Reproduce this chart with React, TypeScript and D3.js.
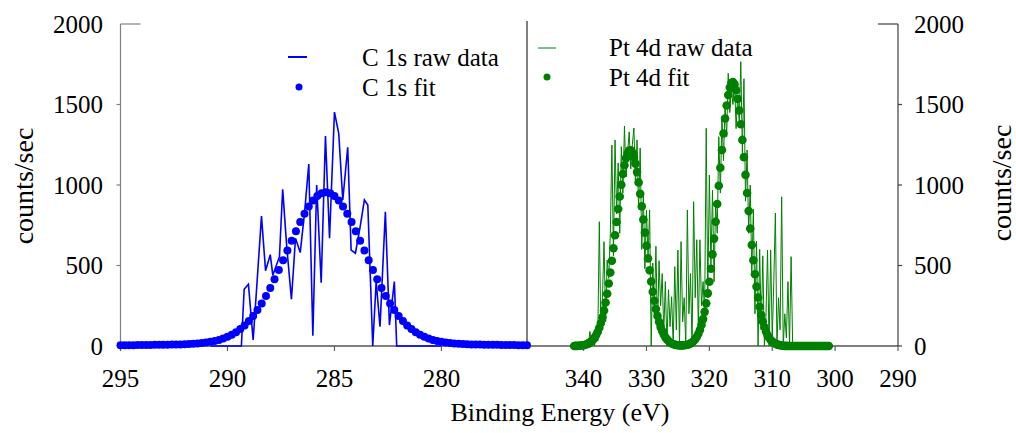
import React from 'react';
import * as d3 from 'd3';

// ---- Data ----
const C1S_RAW_ENERGY = [290.8, 289.35, 289.22, 289.02, 288.8, 288.41, 288.22, 288.0, 287.88, 287.57, 287.42, 287.23, 287.01, 286.82, 286.6, 286.4, 286.2, 286.01, 285.83, 285.62, 285.42, 285.23, 285.0, 284.8, 284.61, 284.38, 284.22, 284.02, 283.8, 283.6, 283.44, 283.21, 283.05, 282.87, 282.62, 282.43, 282.2, 282.09, 280.0];
const C1S_RAW_COUNTS = [0, 0, 352, 383, 37, 807, 468, 567, 439, 555, 973, 617, 290, 669, 580, 824, 1130, 64, 1000, 393, 1304, 669, 1453, 1321, 907, 1234, 596, 576, 740, 907, 876, 0, 400, 120, 834, 130, 400, 0, 0];

const C1S_FIT_START = 295;
const C1S_FIT_STEP = 0.2;
const C1S_FIT_COUNTS = [5, 5, 5, 5, 6, 6, 6, 6, 7, 7, 8, 8, 9, 9, 10, 11, 12, 14, 16, 18, 22, 26, 31, 38, 46, 57, 70, 86, 105, 128, 155, 187, 223, 264, 310, 360, 414, 472, 532, 593, 654, 713, 770, 822, 867, 904, 932, 949, 955, 949, 932, 904, 867, 822, 770, 713, 654, 593, 532, 472, 414, 360, 310, 264, 223, 187, 155, 128, 105, 86, 70, 57, 46, 38, 31, 26, 22, 18, 16, 14, 12, 11, 10, 9, 9, 8, 8, 7, 7, 6, 6, 6, 6, 5, 5, 5];

const PT4D_RAW_START = 340;
const PT4D_RAW_STEP = 0.25;
const PT4D_RAW_COUNTS = [0, 0, 40, 0, 90, 20, 60, 0, 120, 30, 772, 80, 300, 648, 150, 534, 420, 700, 1248, 560, 1280, 820, 1137, 700, 1238, 950, 1366, 1050, 1200, 1330, 1100, 1250, 1354, 1000, 1280, 850, 1230, 600, 950, 480, 845, 550, 845, 0, 515, 200, 620, 100, 530, 250, 450, 80, 400, 0, 350, 120, 306, 0, 493, 100, 596, 0, 648, 150, 300, 0, 845, 200, 450, 0, 896, 300, 660, 100, 660, 250, 400, 200, 1352, 300, 1062, 500, 968, 400, 900, 700, 1300, 950, 1424, 1150, 1500, 1300, 1694, 1450, 1600, 1500, 1650, 1350, 1550, 1400, 1766, 1200, 1660, 900, 1217, 700, 1000, 450, 850, 200, 650, 0, 600, 100, 560, 0, 182, 596, 0, 596, 50, 400, 826, 0, 300, 100, 927, 0, 200, 50, 400, 0, 555, 0];

const PT4D_FIT_START = 341.5;
const PT4D_FIT_STEP = 0.25;
const PT4D_FIT_COUNTS = [0, 1, 1, 2, 3, 4, 5, 8, 11, 15, 21, 29, 39, 52, 68, 88, 113, 143, 179, 221, 270, 325, 388, 456, 529, 607, 688, 770, 851, 929, 1002, 1068, 1123, 1167, 1198, 1214, 1216, 1202, 1174, 1133, 1080, 1016, 945, 867, 786, 704, 623, 544, 470, 401, 337, 281, 230, 187, 150, 119, 93, 72, 55, 41, 31, 22, 16, 12, 8, 6, 5, 4, 4, 3, 5, 6, 8, 11, 16, 22, 31, 42, 57, 76, 100, 131, 167, 212, 265, 327, 399, 480, 569, 667, 772, 882, 995, 1107, 1217, 1320, 1413, 1494, 1559, 1606, 1633, 1640, 1625, 1589, 1535, 1463, 1377, 1280, 1173, 1063, 950, 838, 730, 627, 533, 446, 369, 301, 243, 193, 152, 118, 90, 68, 51, 37, 27, 20, 14, 10, 7, 5, 3, 2, 1, 1, 0, 0, 0, 0, 0, 0, 0, 0, 0, 0, 0, 0, 0, 0, 0, 0, 0, 0, 0, 0, 0, 0, 0, 0, 0, 0, 0];

const Y_TICKS = [0, 500, 1000, 1500, 2000];
const LEFT_X_TICKS = [295, 290, 285, 280];
const RIGHT_X_TICKS = [340, 330, 320, 310, 300, 290];

const LEGEND_LEFT = ['C 1s raw data', 'C 1s fit'];
const LEGEND_RIGHT = ['Pt 4d raw data', 'Pt 4d fit'];
const Y_TITLE = 'counts/sec';
const X_TITLE = 'Binding Energy (eV)';

const BLUE = '#0000ff';
const GREEN = '#008000';
const FONT = "Liberation Serif, Times New Roman, Times, Nimbus Roman, DejaVu Serif, serif";

type Pt = [number, number];

function T(props: any) {
  const { size, children, ...rest } = props;
  return (
    <text {...rest} fill="#000" fontFamily={FONT} fontSize={size}>
      {children}
    </text>
  );
}

export default function App() {
  const W = 1016;
  const H = 433;
  const y = d3.scaleLinear().domain([0, 2000]).range([346, 24]);
  const xL = d3.scaleLinear().domain([295, 276]).range([120.5, 527]);
  const xR = d3.scaleLinear().domain([349, 290]).range([527, 898]);

  const c1sRaw: Pt[] = C1S_RAW_ENERGY.map((e, i) => [e, C1S_RAW_COUNTS[i]]);
  const c1sFit: Pt[] = C1S_FIT_COUNTS.map((c, i) => [C1S_FIT_START - i * C1S_FIT_STEP, c]);
  const ptRaw: Pt[] = PT4D_RAW_COUNTS.map((c, i) => [PT4D_RAW_START - i * PT4D_RAW_STEP, c]);
  const ptFit: Pt[] = PT4D_FIT_COUNTS.map((c, i) => [PT4D_FIT_START - i * PT4D_FIT_STEP, c]);

  const lineL = d3.line<Pt>().x((d) => xL(d[0])).y((d) => y(d[1]));
  const lineR = d3.line<Pt>().x((d) => xR(d[0])).y((d) => y(d[1]));

  const yBase = y(0);
  const leftAxisX = xL(295);
  const rightAxisX = xR(290);

  return (
    <svg width={W} height={H} style={{ position: 'absolute', left: 0, top: 0, background: '#fff' }}>
      <rect x={0} y={0} width={W} height={H} fill="#fff" />

      {/* left y axis */}
      <line x1={leftAxisX} x2={leftAxisX} y1={y(2000)} y2={yBase} stroke="#808080" strokeWidth={1.2} />
      <line x1={leftAxisX} x2={leftAxisX + 20} y1={y(2000)} y2={y(2000)} stroke="#808080" strokeWidth={1.2} />
      {Y_TICKS.filter((t) => t > 0 && t < 2000).map((t) => (
        <line key={'lt' + t} x1={leftAxisX - 4} x2={leftAxisX} y1={y(t)} y2={y(t)} stroke="#808080" strokeWidth={1.2} />
      ))}
      {Y_TICKS.map((t) => (
        <T key={'ll' + t} x={103} y={y(t)} dy="0.35em" textAnchor="end" size={25}>
          {t}
        </T>
      ))}

      {/* right y axis */}
      <line x1={rightAxisX} x2={rightAxisX} y1={y(2000)} y2={yBase} stroke="#404040" strokeWidth={1.2} />
      <line x1={rightAxisX - 20} x2={rightAxisX} y1={y(2000)} y2={y(2000)} stroke="#404040" strokeWidth={1.2} />
      {Y_TICKS.filter((t) => t < 2000).map((t) => (
        <line key={'rt' + t} x1={rightAxisX} x2={rightAxisX + 4} y1={y(t)} y2={y(t)} stroke="#404040" strokeWidth={1.2} />
      ))}
      {Y_TICKS.map((t) => (
        <T key={'rl' + t} x={914} y={y(t)} dy="0.35em" textAnchor="start" size={25}>
          {t}
        </T>
      ))}

      {/* x axis baseline and divider */}
      <line x1={leftAxisX} x2={rightAxisX} y1={yBase} y2={yBase} stroke="#000" strokeWidth={1.2} />
      <line x1={527} x2={527} y1={y(2000) - 3} y2={yBase} stroke="#000" strokeWidth={1} />

      {/* x ticks */}
      {LEFT_X_TICKS.map((t) => (
        <g key={'xl' + t}>
          <line x1={xL(t)} x2={xL(t)} y1={yBase} y2={yBase + 5} stroke="#606060" strokeWidth={1.2} />
          <T x={xL(t)} y={387} textAnchor="middle" size={25}>
            {t}
          </T>
        </g>
      ))}
      {RIGHT_X_TICKS.map((t) => (
        <g key={'xr' + t}>
          <line x1={xR(t)} x2={xR(t)} y1={yBase} y2={yBase + 5} stroke="#606060" strokeWidth={1.2} />
          <T x={xR(t)} y={387} textAnchor="middle" size={25}>
            {t}
          </T>
        </g>
      ))}

      {/* axis titles */}
      <T transform="translate(33,186) rotate(-90)" textAnchor="middle" size={28}>
        {Y_TITLE}
      </T>
      <T transform="translate(1011,183) rotate(-90)" textAnchor="middle" size={28}>
        {Y_TITLE}
      </T>
      <T x={560} y={421} textAnchor="middle" size={26}>
        {X_TITLE}
      </T>

      {/* C 1s */}
      <path d={lineL(c1sRaw) || ''} fill="none" stroke={BLUE} strokeWidth={1.6} />
      {c1sFit.map((d, i) => (
        <circle key={'cf' + i} cx={xL(d[0])} cy={y(d[1])} r={4} fill={BLUE} />
      ))}

      {/* Pt 4d */}
      <path d={lineR(ptRaw) || ''} fill="none" stroke={GREEN} strokeWidth={1} />
      {ptFit.map((d, i) => (
        <circle key={'pf' + i} cx={xR(d[0])} cy={y(d[1])} r={4.3} fill={GREEN} />
      ))}

      {/* legends */}
      <line x1={288} x2={307} y1={57} y2={57} stroke={BLUE} strokeWidth={2} />
      <circle cx={299} cy={87} r={3.5} fill={BLUE} />
      <T x={362} y={66} size={25}>{LEGEND_LEFT[0]}</T>
      <T x={362} y={96} size={25}>{LEGEND_LEFT[1]}</T>

      <line x1={538} x2={556} y1={48} y2={48} stroke={GREEN} strokeWidth={1} />
      <circle cx={547} cy={77} r={3.5} fill={GREEN} />
      <T x={609} y={56} size={25}>{LEGEND_RIGHT[0]}</T>
      <T x={609} y={86} size={25}>{LEGEND_RIGHT[1]}</T>
    </svg>
  );
}
